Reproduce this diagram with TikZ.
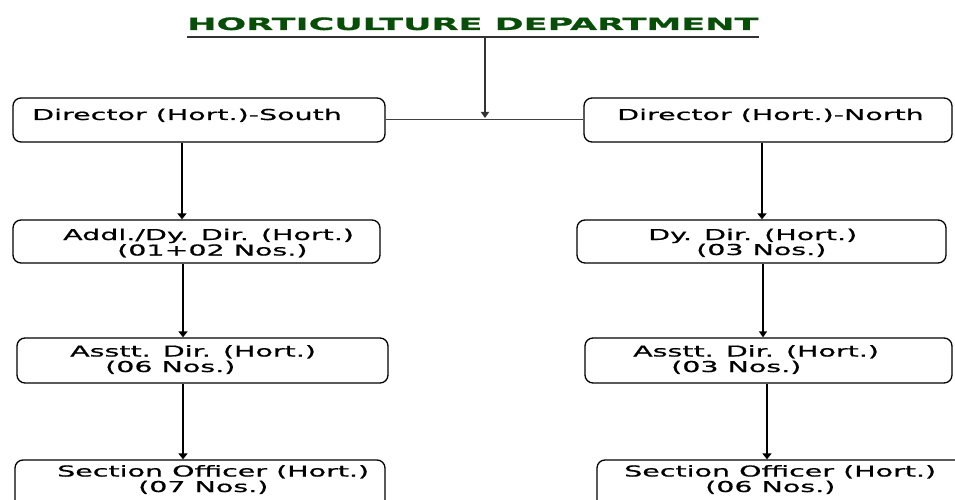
\documentclass[tikz,border=0pt]{standalone}
\usepackage{fontspec}
\usetikzlibrary{arrows.meta}
\setmainfont{DejaVu Sans}
\newfontfamily\boxfont[FakeStretch=1.9, FakeBold=0.8]{DejaVu Sans}
\newfontfamily\titlefont[FakeStretch=2.06, FakeBold=0.6]{DejaVu Sans Bold}
\definecolor{titlegreen}{RGB}{8,78,8}
\tikzset{
  box/.style={draw=black, line width=1.3pt, rounded corners=8pt, inner sep=0pt},
  lbl/.style={anchor=base west, inner sep=0pt, text=black,
              font=\boxfont\fontsize{15}{17}\selectfont},
  arr/.style={draw=black, line width=2.4pt, -{Triangle[width=9pt,length=6pt]}},
  thinarr/.style={draw=black, line width=1.4pt, -{Triangle[width=8pt,length=6pt]}},
  link/.style={draw=black!75, line width=1pt},
}
\begin{document}
\begin{tikzpicture}[x=1pt, y=-1pt]
\useasboundingbox (0,0) rectangle (955,500);
\clip (0,0) rectangle (955,500);
\fill[white] (0,0) rectangle (955,500);

% heading
\node[anchor=base west, inner sep=0pt, text=titlegreen,
      font=\titlefont\fontsize{17}{19}\selectfont] (title) at (187,30)
      {HORTICULTURE DEPARTMENT};
\draw[line width=2pt, black!80] ([yshift=-6.7pt]title.base west) -- ([yshift=-6.7pt]title.base east);
\coordinate (hub) at (485,37);

% boxes
\node[box, minimum width=372pt, minimum height=44pt] (ds)  at (199,120) {};
\node[box, minimum width=368pt, minimum height=44pt] (dn)  at (768,120) {};
\node[box, minimum width=367pt, minimum height=43pt] (as1) at (196.5,241.5) {};
\node[box, minimum width=369pt, minimum height=43pt] (an1) at (761.5,241.5) {};
\node[box, minimum width=371pt, minimum height=45pt] (as2) at (202.5,360.5) {};
\node[box, minimum width=367pt, minimum height=45pt] (an2) at (768.5,360.5) {};
\node[box, minimum width=370pt, minimum height=60pt] (as3) at (200,490) {};
\node[box, minimum width=370pt, minimum height=60pt] (an3) at (782,490) {};

% labels
\node[lbl] (t-ds)  at (32,120)   {Director (Hort.)-South};
\node[lbl] (t-dn)  at (617,120)  {Director (Hort.)-North};
\node[lbl] (t-as1) at (63,240)   {Addl./Dy. Dir. (Hort.)};
\node[lbl] (n-as1) at (117,255.5){(01+02 Nos.)};
\node[lbl] (t-an1) at (648,240)  {Dy. Dir. (Hort.)};
\node[lbl] (n-an1) at (696,255)  {(03 Nos.)};
\node[lbl] (t-as2) at (70,356.5) {Asstt. Dir. (Hort.)};
\node[lbl] (n-as2) at (105,372)  {(06 Nos.)};
\node[lbl] (t-an2) at (633,356.5){Asstt. Dir. (Hort.)};
\node[lbl] (n-an2) at (671,372)  {(03 Nos.)};
\node[lbl] (t-as3) at (57,476.5) {Section Officer (Hort.)};
\node[lbl] (n-as3) at (138,492)  {(07 Nos.)};
\node[lbl] (t-an3) at (624,476.5){Section Officer (Hort.)};
\node[lbl] (n-an3) at (705,492)  {(06 Nos.)};

% top connectors
\draw[link] (ds.east) -- (dn.west);
\draw[draw=black!80, line width=1.4pt, -{Triangle[width=8pt,length=6pt]}]
  (hub) -- ([yshift=2pt]hub |- ds.east);

% south chain
\draw[arr] ([xshift=-17pt]ds.south) -- ([xshift=-17pt]ds.south |- as1.north);
\draw[arr] ([xshift=-13.5pt]as1.south) -- ([xshift=-13.5pt]as1.south |- as2.north);
\draw[arr] ([xshift=-19.5pt]as2.south) -- ([xshift=-19.5pt]as2.south |- as3.north);

% north chain
\draw[arr] ([xshift=-6pt]dn.south) -- ([xshift=-6pt]dn.south |- an1.north);
\draw[thinarr] ([xshift=1.5pt]an1.south) -- ([xshift=1.5pt]an1.south |- an2.north);
\draw[arr] ([xshift=-1.5pt]an2.south) -- ([xshift=-1.5pt]an2.south |- an3.north);
\end{tikzpicture}
\end{document}
